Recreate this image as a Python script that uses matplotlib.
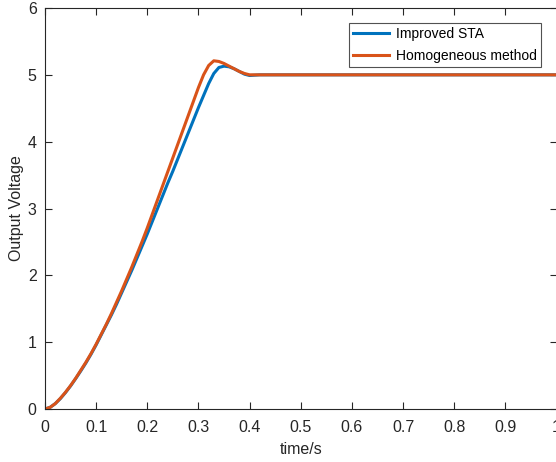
import matplotlib
matplotlib.use('Agg')
import matplotlib.pyplot as plt

plt.rcParams['font.family'] = ['Liberation Sans', 'DejaVu Sans']

# time axis (s)
t = [0.00, 0.01, 0.02, 0.03, 0.04, 0.05, 0.06, 0.07, 0.08, 0.09,
     0.10, 0.11, 0.12, 0.13, 0.14, 0.15, 0.16, 0.17, 0.18, 0.19,
     0.20, 0.21, 0.22, 0.23, 0.24, 0.25, 0.26, 0.27, 0.28, 0.29,
     0.30, 0.31, 0.32, 0.33, 0.34, 0.35, 0.36, 0.37, 0.38, 0.39,
     0.40, 0.41, 0.42, 0.45, 0.50, 0.60, 0.70, 0.80, 0.90, 1.00]

# Improved STA output voltage
v_sta = [0.000, 0.025, 0.080, 0.155, 0.245, 0.345, 0.455, 0.570, 0.690, 0.820,
         0.960, 1.110, 1.260, 1.410, 1.570, 1.740, 1.910, 2.080, 2.260, 2.440,
         2.620, 2.810, 3.000, 3.190, 3.380, 3.560, 3.750, 3.940, 4.130, 4.320,
         4.510, 4.690, 4.870, 5.020, 5.110, 5.130, 5.120, 5.090, 5.050, 5.010,
         4.990, 4.995, 5.000, 5.000, 5.000, 5.000, 5.000, 5.000, 5.000, 5.000]

# Homogeneous method output voltage
v_hom = [0.000, 0.025, 0.080, 0.160, 0.250, 0.350, 0.460, 0.580, 0.700, 0.830,
         0.970, 1.120, 1.270, 1.430, 1.600, 1.770, 1.950, 2.130, 2.320, 2.510,
         2.710, 2.920, 3.130, 3.340, 3.550, 3.760, 3.970, 4.180, 4.390, 4.600,
         4.810, 5.000, 5.140, 5.210, 5.200, 5.170, 5.130, 5.090, 5.050, 5.020,
         5.000, 5.000, 5.000, 5.000, 5.000, 5.000, 5.000, 5.000, 5.000, 5.000]

xticks = [0, 0.1, 0.2, 0.3, 0.4, 0.5, 0.6, 0.7, 0.8, 0.9, 1]
xticklabels = ['0', '0.1', '0.2', '0.3', '0.4', '0.5', '0.6', '0.7', '0.8', '0.9', '1']
yticks = [0, 1, 2, 3, 4, 5, 6]

fig = plt.figure(figsize=(5.56, 4.62), dpi=100)
ax = fig.add_axes([45 / 556, 53 / 462, 511.5 / 556, 401 / 462])

ax.plot(t, v_sta, color='#0072BD', linewidth=2.2, label='Improved STA')
ax.plot(t, v_hom, color='#D95319', linewidth=2.2, label='Homogeneous method')

ax.set_xlim(0, 1)
ax.set_ylim(0, 6)
ax.set_xticks(xticks)
ax.set_xticklabels(xticklabels)
ax.set_yticks(yticks)
ax.tick_params(direction='in', top=True, right=True, length=5, width=0.8,
               labelsize=11.5, colors='#262626')
ax.tick_params(axis='x', pad=8)
ax.tick_params(axis='y', pad=6)
for s in ax.spines.values():
    s.set_color('#262626')
    s.set_linewidth(0.8)

ax.set_xlabel('time/s', fontsize=11.5, color='#262626', labelpad=5)
ax.set_ylabel('Output Voltage', fontsize=11.5, color='#262626', labelpad=3)

leg = ax.legend(loc='upper right', bbox_to_anchor=(541 / 556, 439 / 462),
                bbox_transform=fig.transFigure, fontsize=10, frameon=True,
                fancybox=False, edgecolor='#262626', handlelength=2.6,
                borderpad=0.3, labelspacing=0.55, handletextpad=0.5,
                borderaxespad=0)
leg.get_frame().set_linewidth(0.8)

fig.savefig('out.png', dpi=100)
